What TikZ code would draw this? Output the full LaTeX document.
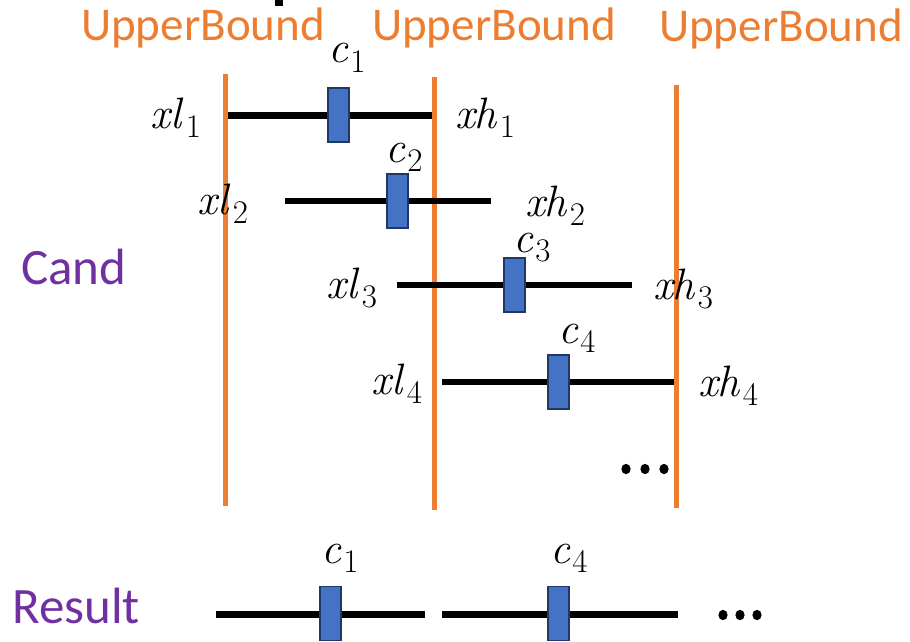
\documentclass[tikz,border=0pt]{standalone}
\usepackage{fontspec}
\newfontfamily\calfont{Carlito}
\newcommand\lbl[2]{\textit{#1}\kern2pt\raisebox{-9.5pt}{\fontsize{33}{34}\selectfont #2}}
\definecolor{ubor}{HTML}{ED7D31}
\definecolor{purp}{HTML}{7030A0}
\definecolor{cblue}{HTML}{4472C4}
\definecolor{cbord}{HTML}{203864}
\tikzset{
  bound/.style={draw=ubor, line width=5pt},
  seg/.style={draw=black, line width=6.5pt},
  cbox/.style={draw=cbord, fill=cblue, line width=1.6pt, minimum width=21pt, minimum height=54pt, inner sep=0pt},
  ublabel/.style={text=ubor, font=\calfont\fontsize{47}{50}\selectfont, inner sep=0pt, anchor=base},
  grplabel/.style={text=purp, font=\calfont\fontsize{51}{54}\selectfont, inner sep=0pt, anchor=base west},
  mlabel/.style={font=\fontsize{44}{46}\selectfont, inner sep=0pt, anchor=base},
  clabel/.style={font=\fontsize{44}{46}\selectfont, inner sep=0pt, anchor=base west},
  dot/.style={fill=black, draw=none},
}
\begin{document}
\begin{tikzpicture}[x=1pt, y=-1pt]
\useasboundingbox (0,0) rectangle (910,642);
% stray mark at the top
\fill[black] (275,0) rectangle (283,6);
% UpperBound labels
\node[ublabel] (ub1) at (203,41) {UpperBound};
\node[ublabel] (ub2) at (494,41) {UpperBound};
\node[ublabel] (ub3) at (781,42) {UpperBound};
% vertical bounds
\coordinate (a1) at (225,74); \coordinate (a2) at (225,506);
\coordinate (b1) at (434,77); \coordinate (b2) at (434,510);
\coordinate (d1) at (676,85); \coordinate (d2) at (676,508);
\draw[bound] (a1) -- (a2);
\draw[bound] (b1) -- (b2);
\draw[bound] (d1) -- (d2);
% group labels
\node[grplabel] (cand) at (21,284) {Cand};
\node[grplabel] (res) at (12,623) {Result};
% row 1
\coordinate (r1l) at (228,115.5); \coordinate (r1r) at (432,115.5);
\draw[seg] (r1l) -- (r1r);
\node[cbox] (c1) at (338.5,115) {};
\node[mlabel] (xl1) at (176,128) {\lbl{xl}{1}};
\node[mlabel] (xh1) at (485,128) {\lbl{xh}{1}};
\node[clabel] (lc1) at (328,63) {\lbl{c}{1}};
% row 2
\coordinate (r2l) at (285,201); \coordinate (r2r) at (491,201);
\draw[seg] (r2l) -- (r2r);
\node[cbox] (c2) at (397.5,201) {};
\node[mlabel] (xl2) at (223,214) {\lbl{xl}{2}};
\node[mlabel] (xh2) at (555,216) {\lbl{xh}{2}};
\node[clabel] (lc2) at (385,162) {\lbl{c}{2}};
% row 3
\coordinate (r3l) at (397,285); \coordinate (r3r) at (632,285);
\draw[seg] (r3l) -- (r3r);
\node[cbox] (c3) at (514.5,285) {};
\node[mlabel] (xl3) at (352,298) {\lbl{xl}{3}};
\node[mlabel] (xh3) at (683,299) {\lbl{xh}{3}};
\node[clabel] (lc3) at (513,252) {\lbl{c}{3}};
% row 4
\coordinate (r4l) at (442,382); \coordinate (r4r) at (674,382);
\draw[seg] (r4l) -- (r4r);
\node[cbox] (c4) at (558.5,382) {};
\node[mlabel] (xl4) at (397,394) {\lbl{xl}{4}};
\node[mlabel] (xh4) at (728,396) {\lbl{xh}{4}};
\node[clabel] (lc4) at (558,343) {\lbl{c}{4}};
% dots
\fill[dot] (626,469) ellipse [x radius=4.6, y radius=5.2];
\fill[dot] (645,469) ellipse [x radius=4.6, y radius=5.2];
\fill[dot] (664,469) ellipse [x radius=4.6, y radius=5.2];
% result row
\coordinate (s1l) at (216,614.5); \coordinate (s1r) at (425,614.5);
\coordinate (s2l) at (442,614.5); \coordinate (s2r) at (678,614.5);
\draw[seg] (s1l) -- (s1r);
\draw[seg] (s2l) -- (s2r);
\node[cbox] (rc1) at (330.5,613.5) {};
\node[cbox] (rc4) at (558.5,613.5) {};
\node[clabel] (rlc1) at (321,563) {\lbl{c}{1}};
\node[clabel] (rlc4) at (550,563) {\lbl{c}{4}};
\fill[dot] (723,615) ellipse [x radius=4.6, y radius=5.2];
\fill[dot] (740,615) ellipse [x radius=4.6, y radius=5.2];
\fill[dot] (757,615) ellipse [x radius=4.6, y radius=5.2];
\end{tikzpicture}
\end{document}
